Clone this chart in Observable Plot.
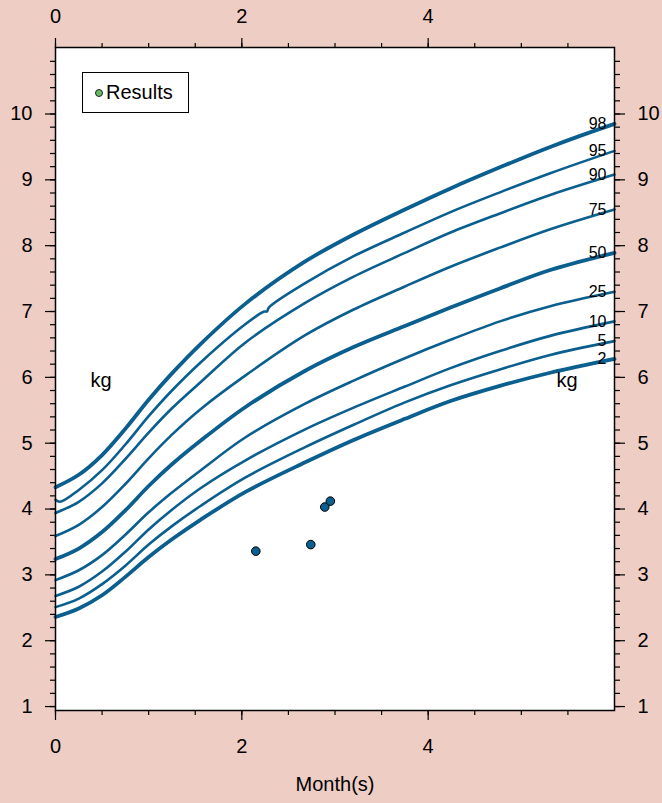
<!DOCTYPE html>
<html>
<head>
<meta charset="utf-8">
<script src="https://cdn.jsdelivr.net/npm/d3@7"></script>
<script src="https://cdn.jsdelivr.net/npm/@observablehq/plot@0.6"></script>
<style>
  html, body { margin: 0; padding: 0; background: #eecdc4; }
  #wrap { position: relative; width: 662px; height: 803px; font-family: "Liberation Sans", Arial, Helvetica, sans-serif; }
  #legend { position: absolute; left: 82px; top: 72px; width: 105px; height: 39px; background: white; border: 1px solid black; display: flex; align-items: center; font-size: 20px; color: black; }
  #legend .dot { display: inline-block; width: 6px; height: 6px; border-radius: 50%; background: #62bd62; border: 1px solid #223; margin-left: 12px; margin-right: 3px; }
</style>
</head>
<body>
<div id="wrap">
  <div id="chart"></div>
  <div id="legend"><span class="dot"></span><span>Results</span></div>
</div>
<script>
// Age (months) sample points
const months = [0, 0.25, 0.5, 0.75, 1.0, 1.25, 1.56, 2.04, 2.68, 3.2, 3.75, 4.24, 4.77, 5.31, 6];
const months95 = [0, 0.05, 0.25, 0.5, 0.75, 1.0, 1.25, 1.56, 2.04, 2.24, 2.27, 2.29, 2.68, 3.2, 3.75, 4.24, 4.77, 5.31, 6];

// Percentile curves (kg)
const p98 = [4.33, 4.52, 4.82, 5.22, 5.66, 6.06, 6.51, 7.12, 7.76, 8.17, 8.55, 8.87, 9.19, 9.50, 9.85];
const p95 = [4.14, 4.11, 4.29, 4.59, 4.98, 5.41, 5.80, 6.23, 6.81, 7.00, 7.00, 7.06, 7.43, 7.84, 8.20, 8.51, 8.81, 9.10, 9.44];
const p90 = [3.94, 4.11, 4.39, 4.76, 5.16, 5.53, 5.93, 6.53, 7.13, 7.53, 7.89, 8.20, 8.49, 8.77, 9.08];
const p75 = [3.59, 3.76, 4.03, 4.38, 4.77, 5.13, 5.52, 6.03, 6.64, 7.03, 7.38, 7.68, 7.97, 8.25, 8.55];
const p50 = [3.24, 3.40, 3.65, 3.98, 4.35, 4.68, 5.04, 5.55, 6.10, 6.46, 6.78, 7.06, 7.35, 7.63, 7.89];
const p25 = [2.92, 3.07, 3.30, 3.61, 3.95, 4.25, 4.59, 5.09, 5.60, 5.95, 6.29, 6.57, 6.85, 7.08, 7.30];
const p10 = [2.68, 2.82, 3.05, 3.35, 3.69, 3.99, 4.32, 4.74, 5.21, 5.54, 5.86, 6.14, 6.40, 6.63, 6.85];
const p5  = [2.51, 2.64, 2.86, 3.14, 3.46, 3.74, 4.05, 4.48, 4.94, 5.28, 5.62, 5.88, 6.12, 6.34, 6.55];
const p2  = [2.36, 2.49, 2.69, 2.97, 3.27, 3.54, 3.84, 4.26, 4.71, 5.05, 5.37, 5.64, 5.87, 6.07, 6.28];

const percentileNames = ["98", "95", "90", "75", "50", "25", "10", "5", "2"];
const thickCurves = ["98", "50", "2"];

// Measured results
const resultMonths = [2.15, 2.74, 2.89, 2.95];
const resultWeights = [3.36, 3.46, 4.03, 4.12];

// Tick values
const xMajor = [0, 2, 4];
const xMinor = [0, 0.5, 1, 1.5, 2, 2.5, 3, 3.5, 4, 4.5, 5, 5.5];
const yMajor = [1, 2, 3, 4, 5, 6, 7, 8, 9, 10];
const yMinor = d3.range(1, 10.81, 0.2).map(v => +v.toFixed(1));

const xLabel = "Month(s)";
const unitLabel = "kg";

// Build table
const seriesValues = [p98, p95, p90, p75, p50, p25, p10, p5, p2];
const curves = [];
percentileNames.forEach((name, i) => {
  const xs = name === "95" ? months95 : months;
  seriesValues[i].forEach((v, j) => curves.push({p: name, m: xs[j], w: v}));
});
const endLabels = percentileNames.map((name, i) => ({p: name, m: 6, w: seriesValues[i][seriesValues[i].length - 1]}));
const results = resultMonths.map((m, i) => ({m, w: resultWeights[i]}));

const lineColor = "#0a5f8f";
const axisFont = 20;
const fmt = d => String(d);

const chart = Plot.plot({
  width: 662,
  height: 803,
  marginTop: 47,
  marginBottom: 93,
  marginLeft: 55,
  marginRight: 48,
  style: {background: "transparent", fontFamily: '"Liberation Sans", Arial, Helvetica, sans-serif', color: "black"},
  x: {domain: [0, 6], label: null},
  y: {domain: [0.94, 11.01], label: null},
  marks: [
    Plot.frame({fill: "white", stroke: null}),
    // bottom axis
    Plot.axisX(xMinor, {anchor: "bottom", tickSize: 5, tickFormat: () => "", strokeWidth: 1.2, label: null}),
    Plot.axisX(xMajor, {anchor: "bottom", tickSize: 10, tickPadding: 18, tickFormat: fmt, fontSize: axisFont, strokeWidth: 1.2, label: null}),
    // top axis
    Plot.axisX(xMinor, {anchor: "top", tickSize: 5, tickFormat: () => "", strokeWidth: 1.2, label: null}),
    Plot.axisX(xMajor, {anchor: "top", tickSize: 10, tickPadding: 15, tickFormat: fmt, fontSize: axisFont, strokeWidth: 1.2, label: null}),
    // left axis
    Plot.axisY(yMinor, {anchor: "left", tickSize: 5, tickFormat: () => "", strokeWidth: 1.2, label: null}),
    Plot.axisY(yMajor, {anchor: "left", tickSize: 10, tickPadding: 13, tickFormat: fmt, fontSize: axisFont, strokeWidth: 1.2, label: null}),
    // right axis
    Plot.axisY(yMinor, {anchor: "right", tickSize: 5, tickFormat: () => "", strokeWidth: 1.2, label: null}),
    Plot.axisY(yMajor, {anchor: "right", tickSize: 10, tickPadding: 13, tickFormat: fmt, fontSize: axisFont, strokeWidth: 1.2, label: null}),
    // percentile curves
    Plot.line(curves.filter(d => !thickCurves.includes(d.p)), {x: "m", y: "w", z: "p", stroke: lineColor, strokeWidth: 2.6, curve: "catmull-rom"}),
    Plot.line(curves.filter(d => thickCurves.includes(d.p)), {x: "m", y: "w", z: "p", stroke: lineColor, strokeWidth: 3.8, curve: "catmull-rom"}),
    // percentile labels
    Plot.text(endLabels, {x: "m", y: "w", text: "p", dx: -8, textAnchor: "end", fontSize: 16, fill: "black"}),
    // unit labels
    Plot.text([unitLabel], {x: 0.49, y: 5.95, text: d => d, fontSize: 20, fill: "black"}),
    Plot.text([unitLabel], {x: 5.49, y: 5.95, text: d => d, fontSize: 20, fill: "black"}),
    // results
    Plot.dot(results, {x: "m", y: "w", r: 4.3, fill: lineColor, stroke: "black", strokeWidth: 1}),
    // x label
    Plot.text([xLabel], {frameAnchor: "bottom", dy: 80, text: d => d, fontSize: 20, fill: "black"}),
    Plot.frame({stroke: "black", strokeWidth: 1.5})
  ]
});
document.getElementById("chart").appendChild(chart);
</script>
</body>
</html>
